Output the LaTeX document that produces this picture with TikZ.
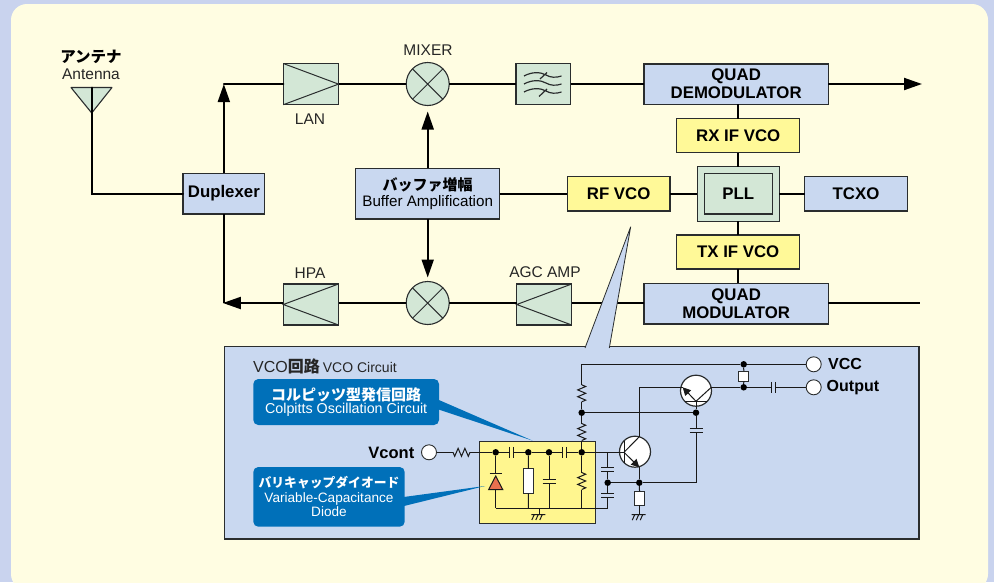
\documentclass[tikz,border=0pt]{standalone}
\usepackage{fontspec}
\setmainfont{Liberation Sans}
\newfontfamily\cjk{Noto Sans CJK JP}
\usetikzlibrary{arrows.meta,calc}
\definecolor{outerbg}{HTML}{C9D3EE}
\definecolor{innerbg}{HTML}{FFFDE2}
\definecolor{bluebox}{HTML}{C9D8F0}
\definecolor{greenbox}{HTML}{D3E7D6}
\definecolor{yellowbox}{HTML}{FFF998}
\definecolor{yellowcirc}{HTML}{FFF68F}
\definecolor{calloutblue}{HTML}{0070B9}
\definecolor{diodered}{HTML}{E8704F}
\definecolor{inkdark}{HTML}{2A2D2E}
\newcommand{\fs}[1]{\fontsize{#1}{#1}\selectfont}
\newcommand{\boxat}[7]{% name x1 y1 x2 y2 style text
  \pgfmathsetmacro{\cxv}{(#2+#4)/2}\pgfmathsetmacro{\cyv}{(#3+#5)/2}%
  \pgfmathsetmacro{\wv}{#4-#2}\pgfmathsetmacro{\hv}{#5-#3}%
  \node[#6,minimum width=\wv pt,minimum height=\hv pt] (#1) at (\cxv,\cyv) {#7};}
% circuit parts: invisible nodes that carry the symbol and give the wires anchors
\newcommand{\hcapn}[3]{\node[part,minimum width=4pt,minimum height=11pt] (#1) at (#2,#3) {};
  \draw[circ] (#1.north west)--(#1.south west) (#1.north east)--(#1.south east);}
\newcommand{\vcapn}[3]{\node[part,minimum width=13pt,minimum height=4pt] (#1) at (#2,#3) {};
  \draw[circ] (#1.north west)--(#1.north east) (#1.south west)--(#1.south east);}
\newcommand{\vresn}[3]{\node[part,minimum width=8pt,minimum height=17pt] (#1) at (#2,#3) {};
  \draw[circ,line join=miter] (#1.north) -- ++(4,1.7) -- ++(-8,3.4) -- ++(8,3.4) -- ++(-8,3.4) -- ++(8,3.4) -- (#1.south);}
\newcommand{\hresn}[3]{\node[part,minimum width=17pt,minimum height=8pt] (#1) at (#2,#3) {};
  \draw[circ,line join=miter] (#1.west) -- ++(1.7,4) -- ++(3.4,-8) -- ++(3.4,8) -- ++(3.4,-8) -- ++(3.4,8) -- (#1.east);}
\newcommand{\groundn}[3]{\coordinate (#1) at (#2,#3);
  \draw[circ] ($(#1)+(-8,0)$) -- ++(14,0)
    ($(#1)+(-5,0)$) -- ++(-2.5,5.5) ($(#1)+(-1,0)$) -- ++(-2.5,5.5) ($(#1)+(3,0)$) -- ++(-2.5,5.5);}
\tikzset{
  x=1pt,y=-1pt,
  bx/.style={draw=inkdark,line width=1.1pt,inner sep=0pt,outer sep=0pt,align=center,text=black},
  blue/.style={bx,fill=bluebox},
  green/.style={bx,fill=greenbox},
  yellow/.style={bx,fill=yellowbox},
  bt/.style={font=\fs{16.8}\bfseries},
  lbl/.style={font=\fs{15.5},text=black!85,inner sep=0pt},
  wire/.style={line width=2pt,draw=black},
  arr/.style={wire,-{Triangle[length=18pt,width=12pt]}},
  xcirc/.style={circle,draw=inkdark,fill=greenbox,line width=1.1pt,minimum size=43pt,inner sep=0pt,outer sep=0pt},
  thin1/.style={line width=1pt,draw=inkdark},
  circ/.style={line width=1pt,draw=black!90},
  part/.style={inner sep=0pt,outer sep=0pt,draw=none},
  jdot/.style={circle,fill=black,minimum size=6.5pt,inner sep=0pt,outer sep=0pt},
  term/.style={circle,draw=inkdark,fill=white,line width=.9pt,minimum size=15pt,inner sep=0pt,outer sep=0pt},
  tr/.style={circle,draw=inkdark,fill=white,line width=1.2pt,minimum size=31pt,inner sep=0pt,outer sep=0pt},
  whitebox/.style={draw=inkdark,fill=white,line width=1pt,inner sep=0pt,outer sep=0pt},
  trarrow/.style={circ,-{Triangle[length=8pt,width=8pt]}},
  callout/.style={fill=calloutblue,rounded corners=5pt,inner sep=0pt,outer sep=0pt,text=white,align=center},
}
\begin{document}
\begin{tikzpicture}
\useasboundingbox (0,0) rectangle (994,582);
\clip (0,0) rectangle (994,582);
\fill[outerbg] (0,0) rectangle (994,582);
\fill[innerbg,rounded corners=16pt] (11,4) rectangle (988,590);

% antenna
\coordinate (antbase) at (91.7,87.5);
\fill[greenbox] (71,87.5) -- (112,87.5) -- (91.7,113) -- cycle;
\draw[line width=1.1pt,draw=inkdark,line join=round] (71,87.5) -- (112,87.5) -- (91.7,113) -- cycle;
\node[inner sep=0pt,font=\fs{15.5}\cjk\bfseries,text=black] (antjp) at (91,57) {アンテナ};
\node[lbl] (anten) at (91,74) {Antenna};

% boxes
\boxat{dup}{183}{173.3}{264.7}{214}{blue,font=\fs{16.8}\bfseries}{Duplexer}
\boxat{lan}{283.3}{63.5}{338.5}{104.7}{green}{}
\boxat{hpa}{283.3}{284}{338.5}{325}{green}{}
\boxat{filt}{516}{63.5}{570.7}{104.7}{green}{}
\boxat{agc}{516.7}{284}{571.7}{325}{green}{}
\boxat{demod}{644}{64}{828.3}{104.3}{blue,bt}{QUAD\\[1.2pt]DEMODULATOR}
\boxat{mod}{644}{283.3}{828.3}{324}{blue,bt}{QUAD\\[1.2pt]MODULATOR}
\boxat{rxvco}{676.7}{118.7}{799.7}{152.7}{yellow,bt}{RX IF VCO}
\boxat{txvco}{676.7}{235}{799.7}{269}{yellow,bt}{TX IF VCO}
\boxat{pllo}{697.3}{166.7}{779.3}{221.3}{green}{}
\boxat{plli}{704.3}{173.7}{772.3}{214}{green,bt}{PLL}
\boxat{tcxo}{804.7}{176.7}{907.3}{211}{blue,bt}{TCXO}
\boxat{rfvco}{567.3}{176.7}{670}{211}{yellow,bt}{RF VCO}
\boxat{buf}{355.7}{168.3}{499.7}{219}{blue}{{\fs{15}\cjk\bfseries バッファ増幅}\\[2.5pt]{\fs{15.2}Buffer Amplification}}
\node[xcirc] (mixa) at (427.7,84) {};
\node[xcirc] (mixb) at (427.7,303) {};
\draw[thin1] (mixa.45)--(mixa.225) (mixa.135)--(mixa.315);
\draw[thin1] (mixb.45)--(mixb.225) (mixb.135)--(mixb.315);
\draw[thin1] (lan.north west)--(lan.east)--(lan.south west);
\draw[thin1] (hpa.north east)--(hpa.west)--(hpa.south east);
\draw[thin1] (agc.north east)--(agc.west)--(agc.south east);

% filter symbol
\draw[line width=1.2pt,draw=inkdark]
  (524,76) .. controls (532,71.5) and (541,72) .. (546,75) .. controls (550,77.5) and (556,78) .. (561.5,76)
  (524,84) .. controls (532,79.5) and (541,80) .. (546,83) .. controls (550,85.5) and (556,86) .. (561.5,84)
  (524,92) .. controls (532,87.5) and (541,88) .. (546,91) .. controls (550,93.5) and (556,94) .. (561.5,92)
  (540,79) -- (547,72.5)
  (539,96.5) -- (547,89);

% labels
\node[lbl] (lanl) at (310,119) {LAN};
\node[lbl] (hpal) at (310,272.7) {HPA};
\node[lbl] (mixl) at (428,50) {MIXER};
\node[lbl] (agcl) at (545,271.7) {AGC AMP};

% main wires
\draw[wire,line cap=round] (antbase) -- (antbase |- dup.west) -- (dup.west);
\draw[arr] (dup.north) -- (dup.north |- lan.west);
\draw[wire,line cap=round] (dup.north |- lan.west) -- (lan.west);
\draw[wire] (lan.east) -- (lan.east -| mixa.west);
\draw[wire] (mixa.east) -- (mixa.east -| filt.west);
\draw[wire] (filt.east) -- (filt.east -| demod.west);
\coordinate (rxend) at (922,84);
\draw[arr] (demod.east |- rxend) -- (rxend);
\draw[wire] (rxvco.north) -- (rxvco.north |- demod.south);
\draw[wire] (rxvco.south) -- (rxvco.south |- pllo.north);
\draw[wire] (txvco.north) -- (txvco.north |- pllo.south);
\draw[wire] (txvco.south) -- (txvco.south |- mod.north);
\draw[wire] (pllo.east) -- (pllo.east -| tcxo.west);
\draw[wire] (pllo.west) -- (pllo.west -| rfvco.east);
\draw[wire] (buf.east) -- (buf.east -| rfvco.west);
\draw[arr,shorten >=6pt] (buf.north) -- (mixa.south);
\draw[arr,shorten >=4pt] (buf.south) -- (mixb.north);
\draw[wire] (dup.south) -- (dup.south |- mixb.west);
\draw[arr,shorten >=-1pt] (mixb.west -| hpa.west) -- (dup.south |- mixb.west);
\draw[wire] (mixb.west) -- (mixb.west -| hpa.east);
\draw[wire] (mixb.east) -- (mixb.east -| agc.west);
\draw[wire] (mixb.east -| agc.east) -- (mixb.east -| mod.west);
\coordinate (txend) at (920,303);
\draw[wire] (mod.east |- txend) -- (txend);

% VCO panel
\boxat{panel}{224.7}{346.7}{919}{539}{blue,line width=1.3pt}{}
\coordinate (wtip) at (630.7,226.7);
\coordinate (wl) at (585,348);
\coordinate (wr) at (609.3,348);
\fill[bluebox] (wtip) -- (wl) -- (wr) -- cycle;
\draw[line width=.8pt,draw=inkdark] (wl) -- (wtip) -- (wr);

\node[anchor=west,inner sep=0pt,text=black!85] (vcot) at (253,366.7)
  {{\fs{16}VCO}{\fs{16}\cjk\bfseries 回路}\hspace{3pt}{\fs{14}VCO Circuit}};

% yellow sub-block
\boxat{yb}{479.3}{441.3}{595}{523.3}{draw=inkdark,fill=yellowcirc,line width=1pt,inner sep=0pt,outer sep=0pt}{}

% callouts
\fill[calloutblue] (435,398.3) -- (532.7,440.7) -- (435,408.3) -- cycle;
\fill[calloutblue] (400,497.5) -- (485,486) -- (400,507) -- cycle;
\boxat{cola}{253.3}{379}{439}{425}{callout}{{\fs{15}\cjk\bfseries コルピッツ型発信回路}\\[1.5pt]{\fs{14.3}Colpitts Oscillation Circuit}}
\boxat{colb}{253.3}{467}{404.7}{526.7}{callout}{{\fs{12.8}\cjk\bfseries バリキャップダイオード}\\[2.5pt]{\fs{13.6}Variable-Capacitance}\\[1pt]{\fs{13.6}Diode}}

% terminals and junctions
\node[term] (vcont) at (429,452.3) {};
\node[anchor=east,inner sep=0pt,font=\fs{16.5}\bfseries] (vcontl) at (414.5,453) {Vcont};
\node[term] (vcc) at (813.7,364.3) {};
\node[term] (out) at (813.7,387.3) {};
\node[anchor=west,inner sep=0pt,font=\fs{16}\bfseries] (vccl) at (828,364.3) {VCC};
\node[anchor=west,inner sep=0pt,font=\fs{16}\bfseries] (outl) at (826.5,388) {Output};

\coordinate (tl) at (581.7,364.3);
\coordinate (b1) at (495.7,508.3);
\coordinate (b2) at (528.3,508.3);
\coordinate (b3) at (549,508.3);
\coordinate (b4) at (581.7,508.3);
\coordinate (b5) at (607.7,508.3);
\coordinate (m5) at (607.7,452.3);
\coordinate (gb) at (539.3,508.3);

\node[jdot] (j1) at (495.7,452.3) {};
\node[jdot] (j2) at (528.3,452.3) {};
\node[jdot] (j3) at (549,452.3) {};
\node[jdot] (j4) at (581.7,452.3) {};
\node[jdot] (j5) at (581.7,412.7) {};
\node[jdot] (j6) at (696,412.7) {};
\node[jdot] (j7) at (743.7,364.3) {};
\node[jdot] (j8) at (743.7,387.3) {};
\node[jdot] (j9) at (607.7,482.7) {};
\node[jdot] (j10) at (639.3,482.7) {};

\hresn{r1}{461.5}{452.3}
\hcapn{c1}{511.7}{452.3}
\hcapn{c2}{564.3}{452.3}
\vresn{r2}{581.7}{481}
\vresn{r3}{581.7}{393.3}
\vresn{r4}{581.7}{432}
\vcapn{c3}{549}{481}
\vcapn{c4}{607.7}{469}
\vcapn{c5}{607.7}{495}
\vcapn{c6}{696}{430.3}
\hcapn{c7}{773.3}{387.3}

\node[whitebox,minimum width=9.5pt,minimum height=24.5pt] (rw1) at (528.6,481) {};
\node[whitebox,minimum width=10pt,minimum height=14.3pt] (rw2) at (639.7,498.2) {};
\node[whitebox,minimum width=9.7pt,minimum height=10.3pt] (rw3) at (743.8,376.2) {};

% diode
\node[part,minimum width=14pt,minimum height=16pt] (dio) at (495.7,481.5) {};
\draw[circ,line width=1.2pt] ($(dio.north)+(-6,-.2)$) -- ++(12,0);
\fill[diodered] (dio.south west) -- (dio.south east) -- ($(dio.north)+(0,2.5)$) -- cycle;
\draw[circ] (dio.south west) -- (dio.south east) -- ($(dio.north)+(0,2.5)$) -- cycle;

% transistors
\node[tr] (q2) at (635,451.7) {};
\node[tr] (q1) at (696,390.7) {};
\coordinate (q2b) at (624,452.3);
\coordinate (q2c) at (639.3,436.7);
\coordinate (q2e) at (639.3,467.3);
\coordinate (q1b) at (696,401.3);
\coordinate (q1c) at (711.3,387.3);
\coordinate (q1e) at (682.7,387.3);
\draw[circ] (624,441) -- (624,463);
\draw[circ] (q2b) -- (q2c);
\draw[trarrow] (q2b) -- (q2e);
\draw[circ] (685,401.3) -- (707,401.3);
\draw[circ] (q1b) -- (q1c);
\draw[trarrow] (q1b) -- (q1e);

% circuit wires
\draw[circ] (vcont) -- (r1);
\draw[circ] (r1) -- (j1);
\draw[circ] (j1) -- (c1);
\draw[circ] (c1) -- (j2);
\draw[circ] (j2) -- (j3);
\draw[circ] (j3) -- (c2);
\draw[circ] (c2) -- (j4);
\draw[circ] (j4) -- (q2b);
\draw[circ] (j1) -- (dio.north);
\draw[circ] (dio.south) -- (b1);
\draw[circ] (j2) -- (rw1);
\draw[circ] (rw1) -- (b2);
\draw[circ] (j3) -- (c3);
\draw[circ] (c3) -- (b3);
\draw[circ] (j4) -- (r2);
\draw[circ] (r2) -- (b4);
\draw[circ] (b1) -- (b5);
\draw[circ] (b5) -- (c5);
\draw[circ] (c5) -- (j9);
\draw[circ] (j9) -- (c4);
\draw[circ] (c4) -- (m5);
\draw[circ] (j4) -- (r4);
\draw[circ] (r4) -- (j5);
\draw[circ] (j5) -- (r3);
\draw[circ] (r3) -- (tl);
\draw[circ] (tl) -- (j7);
\draw[circ] (j7) -- (vcc);
\draw[circ] (j7) -- (rw3);
\draw[circ] (rw3) -- (j8);
\draw[circ] (q1c) -- (j8);
\draw[circ] (j8) -- (c7);
\draw[circ] (c7) -- (out);
\draw[circ] (j5) -- (j6);
\draw[circ] (j6) -- (q1b);
\draw[circ] (j6) -- (c6);
\draw[circ] (c6.south) |- (j10);
\draw[circ] (j9) -- (j10);
\draw[circ] (q2e) -- (j10);
\draw[circ] (q2c) |- (q1e);
\draw[circ] (j10) -- (rw2);
\groundn{g2}{639.7}{514.7}
\draw[circ] (rw2) -- (g2);
\groundn{g1}{539.3}{514.5}
\draw[circ] (gb) -- (g1);
\end{tikzpicture}
\end{document}
